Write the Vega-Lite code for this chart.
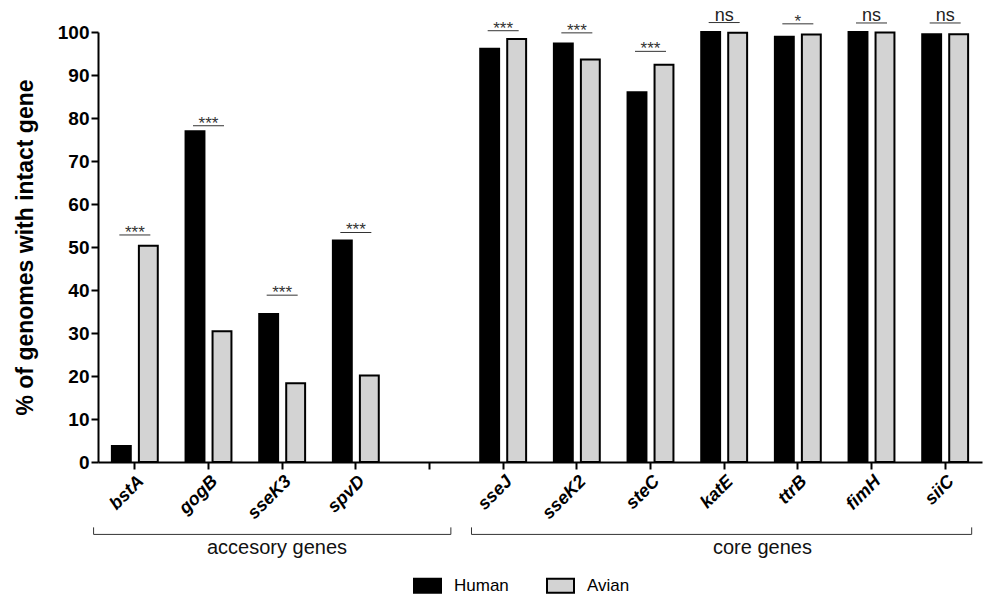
{
  "$schema": "https://vega.github.io/schema/vega-lite/v6.json",
  "autosize": {"type": "none"},
  "width": 884,
  "height": 430,
  "padding": {"left": 98, "top": 32, "right": 5, "bottom": 132},
  "background": "white",
  "config": {
    "font": "Liberation Sans",
    "view": {"stroke": null},
    "axis": {"grid": false, "domainColor": "black", "domainWidth": 2, "tickColor": "black", "tickWidth": 2, "tickSize": 7, "labelColor": "black", "titleColor": "black"}
  },
  "datasets": {
    "main": [
      {"gene": "bstA", "host": "Human", "value": 3.7},
      {"gene": "bstA", "host": "Avian", "value": 50.3},
      {"gene": "gogB", "host": "Human", "value": 76.9},
      {"gene": "gogB", "host": "Avian", "value": 30.4},
      {"gene": "sseK3", "host": "Human", "value": 34.4},
      {"gene": "sseK3", "host": "Avian", "value": 18.3},
      {"gene": "spvD", "host": "Human", "value": 51.5},
      {"gene": "spvD", "host": "Avian", "value": 20.1},
      {"gene": "sseJ", "host": "Human", "value": 96.1},
      {"gene": "sseJ", "host": "Avian", "value": 98.4},
      {"gene": "sseK2", "host": "Human", "value": 97.3},
      {"gene": "sseK2", "host": "Avian", "value": 93.6},
      {"gene": "steC", "host": "Human", "value": 86.0},
      {"gene": "steC", "host": "Avian", "value": 92.4},
      {"gene": "katE", "host": "Human", "value": 100.0},
      {"gene": "katE", "host": "Avian", "value": 99.8},
      {"gene": "ttrB", "host": "Human", "value": 98.9},
      {"gene": "ttrB", "host": "Avian", "value": 99.4},
      {"gene": "fimH", "host": "Human", "value": 100.0},
      {"gene": "fimH", "host": "Avian", "value": 99.9},
      {"gene": "siiC", "host": "Human", "value": 99.5},
      {"gene": "siiC", "host": "Avian", "value": 99.5}
    ],
    "sig": [
      {"gene": "bstA", "sig": "***", "value": 52.8},
      {"gene": "gogB", "sig": "***", "value": 78.2},
      {"gene": "sseK3", "sig": "***", "value": 38.8},
      {"gene": "spvD", "sig": "***", "value": 53.4},
      {"gene": "sseJ", "sig": "***", "value": 100.3},
      {"gene": "sseK2", "sig": "***", "value": 99.8},
      {"gene": "steC", "sig": "***", "value": 95.5},
      {"gene": "katE", "sig": "ns", "value": 102.2},
      {"gene": "ttrB", "sig": "*", "value": 101.9},
      {"gene": "fimH", "sig": "ns", "value": 102.1},
      {"gene": "siiC", "sig": "ns", "value": 102.1}
    ],
    "groups": [
      {"label": "accesory genes", "start": -0.06, "end": 4.79, "mid": 2.43},
      {"label": "core genes", "start": 5.07, "end": 11.86, "mid": 9.02}
    ]
  },
  "resolve": {"scale": {"x": "independent"}},
  "layer": [
    {
      "layer": [
        {
          "data": {"name": "main"},
          "mark": {"type": "bar", "stroke": "black", "strokeWidth": 2},
          "encoding": {
            "x": {
              "field": "gene", "type": "nominal",
              "scale": {"domain": ["bstA", "gogB", "sseK3", "spvD", " ", "sseJ", "sseK2", "steC", "katE", "ttrB", "fimH", "siiC"], "paddingInner": 0.267, "paddingOuter": 0.1335},
              "axis": {"title": null, "labelAngle": -45, "labelAlign": "right", "labelBaseline": "top", "labelFontSize": 18, "labelFontWeight": "bold", "labelFontStyle": "italic", "labelPadding": 3}
            },
            "xOffset": {"field": "host", "type": "nominal", "scale": {"domain": ["Human", "Avian"], "paddingInner": 0.3, "paddingOuter": 0.15}},
            "y": {
              "field": "value", "type": "quantitative",
              "scale": {"domain": [0, 100], "nice": false},
              "axis": {"title": "% of genomes with intact gene", "values": [0, 10, 20, 30, 40, 50, 60, 70, 80, 90, 100], "labelFontSize": 19, "labelFontWeight": "bold", "labelPadding": 2, "titleFontSize": 23, "titleFontWeight": "bold", "titlePadding": 20}
            },
            "fill": {
              "field": "host", "type": "nominal",
              "scale": {"domain": ["Human", "Avian"], "range": ["#000000", "#d3d3d3"]},
              "legend": {"orient": "none", "legendX": 315, "legendY": 539, "direction": "horizontal", "title": null, "padding": 0, "symbolType": "M-1,-0.52H1V0.52H-1Z", "symbolSize": 729, "symbolStrokeColor": "black", "symbolStrokeWidth": 2, "symbolOpacity": 1, "labelFontSize": 17, "labelOffset": 12, "columnPadding": 34, "labelColor": "black"}
            }
          }
        },
        {
          "data": {"name": "sig"},
          "mark": {"type": "tick", "size": 31, "thickness": 1, "color": "#333333", "opacity": 1},
          "encoding": {
            "x": {"field": "gene", "type": "nominal", "scale": {"domain": ["bstA", "gogB", "sseK3", "spvD", " ", "sseJ", "sseK2", "steC", "katE", "ttrB", "fimH", "siiC"]}},
            "y": {"field": "value", "type": "quantitative"}
          }
        },
        {
          "data": {"name": "sig"},
          "transform": [{"filter": "datum.sig !== 'ns'"}],
          "mark": {"type": "text", "fontSize": 17, "baseline": "alphabetic", "dy": 3, "color": "#333333"},
          "encoding": {
            "x": {"field": "gene", "type": "nominal", "scale": {"domain": ["bstA", "gogB", "sseK3", "spvD", " ", "sseJ", "sseK2", "steC", "katE", "ttrB", "fimH", "siiC"]}},
            "y": {"field": "value", "type": "quantitative"},
            "text": {"field": "sig"}
          }
        },
        {
          "data": {"name": "sig"},
          "transform": [{"filter": "datum.sig === 'ns'"}],
          "mark": {"type": "text", "fontSize": 18, "baseline": "alphabetic", "dy": -2, "color": "#222222"},
          "encoding": {
            "x": {"field": "gene", "type": "nominal", "scale": {"domain": ["bstA", "gogB", "sseK3", "spvD", " ", "sseJ", "sseK2", "steC", "katE", "ttrB", "fimH", "siiC"]}},
            "y": {"field": "value", "type": "quantitative"},
            "text": {"field": "sig"}
          }
        }
      ]
    },
    {
      "data": {"name": "groups"},
      "layer": [
        {
          "mark": {"type": "rule", "color": "#333333", "strokeWidth": 1},
          "encoding": {
            "x": {"field": "start", "type": "quantitative", "scale": {"domain": [0, 12], "nice": false, "zero": false}, "axis": null},
            "x2": {"field": "end"},
            "y": {"datum": -16.84}
          }
        },
        {
          "mark": {"type": "rule", "color": "#333333", "strokeWidth": 1},
          "encoding": {
            "x": {"field": "start", "type": "quantitative"},
            "y": {"datum": -16.84},
            "y2": {"datum": -15.2}
          }
        },
        {
          "mark": {"type": "rule", "color": "#333333", "strokeWidth": 1},
          "encoding": {
            "x": {"field": "end", "type": "quantitative"},
            "y": {"datum": -16.84},
            "y2": {"datum": -15.2}
          }
        },
        {
          "mark": {"type": "text", "fontSize": 20, "baseline": "middle", "align": "center", "color": "#111111"},
          "encoding": {
            "x": {"field": "mid", "type": "quantitative"},
            "y": {"datum": -19.9},
            "text": {"field": "label"}
          }
        }
      ]
    }
  ]
}
